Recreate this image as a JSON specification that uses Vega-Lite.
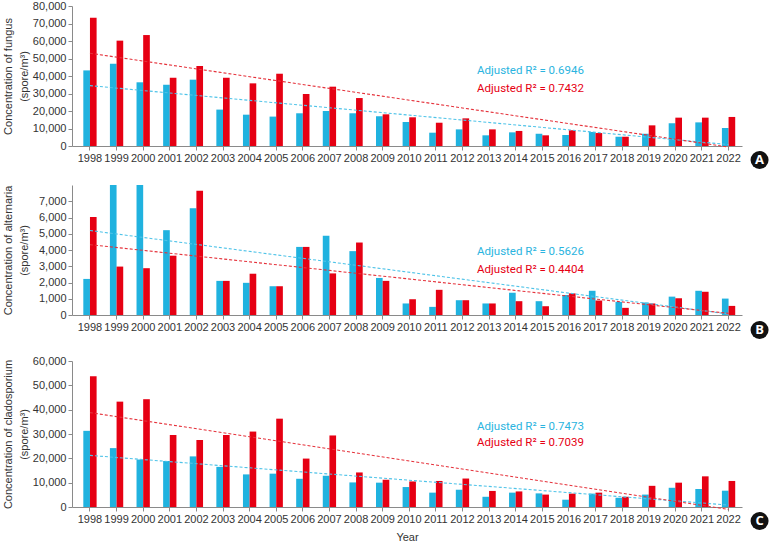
{
  "$schema": "https://vega.github.io/schema/vega-lite/v6.json",
  "padding": {"left": 2, "top": 0, "right": 0, "bottom": 0},
  "spacing": 16,
  "datasets": {
    "bars": [
      {"panel":"A","year":1998,"series":"Series 1","value":43200},{"panel":"A","year":1998,"series":"Series 2","value":73300},
      {"panel":"A","year":1999,"series":"Series 1","value":47000},{"panel":"A","year":1999,"series":"Series 2","value":60200},
      {"panel":"A","year":2000,"series":"Series 1","value":36400},{"panel":"A","year":2000,"series":"Series 2","value":63400},
      {"panel":"A","year":2001,"series":"Series 1","value":35000},{"panel":"A","year":2001,"series":"Series 2","value":39000},
      {"panel":"A","year":2002,"series":"Series 1","value":37900},{"panel":"A","year":2002,"series":"Series 2","value":45700},
      {"panel":"A","year":2003,"series":"Series 1","value":20800},{"panel":"A","year":2003,"series":"Series 2","value":39000},
      {"panel":"A","year":2004,"series":"Series 1","value":17900},{"panel":"A","year":2004,"series":"Series 2","value":35800},
      {"panel":"A","year":2005,"series":"Series 1","value":16800},{"panel":"A","year":2005,"series":"Series 2","value":41300},
      {"panel":"A","year":2006,"series":"Series 1","value":18700},{"panel":"A","year":2006,"series":"Series 2","value":29700},
      {"panel":"A","year":2007,"series":"Series 1","value":20000},{"panel":"A","year":2007,"series":"Series 2","value":33900},
      {"panel":"A","year":2008,"series":"Series 1","value":18700},{"panel":"A","year":2008,"series":"Series 2","value":27400},
      {"panel":"A","year":2009,"series":"Series 1","value":17000},{"panel":"A","year":2009,"series":"Series 2","value":18100},
      {"panel":"A","year":2010,"series":"Series 1","value":13700},{"panel":"A","year":2010,"series":"Series 2","value":16400},
      {"panel":"A","year":2011,"series":"Series 1","value":7600},{"panel":"A","year":2011,"series":"Series 2","value":13300},
      {"panel":"A","year":2012,"series":"Series 1","value":9500},{"panel":"A","year":2012,"series":"Series 2","value":15800},
      {"panel":"A","year":2013,"series":"Series 1","value":6100},{"panel":"A","year":2013,"series":"Series 2","value":9500},
      {"panel":"A","year":2014,"series":"Series 1","value":7800},{"panel":"A","year":2014,"series":"Series 2","value":8600},
      {"panel":"A","year":2015,"series":"Series 1","value":7000},{"panel":"A","year":2015,"series":"Series 2","value":6100},
      {"panel":"A","year":2016,"series":"Series 1","value":6300},{"panel":"A","year":2016,"series":"Series 2","value":9000},
      {"panel":"A","year":2017,"series":"Series 1","value":8000},{"panel":"A","year":2017,"series":"Series 2","value":7400},
      {"panel":"A","year":2018,"series":"Series 1","value":5300},{"panel":"A","year":2018,"series":"Series 2","value":5300},
      {"panel":"A","year":2019,"series":"Series 1","value":7000},{"panel":"A","year":2019,"series":"Series 2","value":11800},
      {"panel":"A","year":2020,"series":"Series 1","value":13000},{"panel":"A","year":2020,"series":"Series 2","value":16200},
      {"panel":"A","year":2021,"series":"Series 1","value":13500},{"panel":"A","year":2021,"series":"Series 2","value":16200},
      {"panel":"A","year":2022,"series":"Series 1","value":10300},{"panel":"A","year":2022,"series":"Series 2","value":16600},

      {"panel":"B","year":1998,"series":"Series 1","value":2220},{"panel":"B","year":1998,"series":"Series 2","value":6030},
      {"panel":"B","year":1999,"series":"Series 1","value":8500},{"panel":"B","year":1999,"series":"Series 2","value":2980},
      {"panel":"B","year":2000,"series":"Series 1","value":8500},{"panel":"B","year":2000,"series":"Series 2","value":2880},
      {"panel":"B","year":2001,"series":"Series 1","value":5220},{"panel":"B","year":2001,"series":"Series 2","value":3650},
      {"panel":"B","year":2002,"series":"Series 1","value":6570},{"panel":"B","year":2002,"series":"Series 2","value":7640},
      {"panel":"B","year":2003,"series":"Series 1","value":2100},{"panel":"B","year":2003,"series":"Series 2","value":2100},
      {"panel":"B","year":2004,"series":"Series 1","value":1980},{"panel":"B","year":2004,"series":"Series 2","value":2540},
      {"panel":"B","year":2005,"series":"Series 1","value":1770},{"panel":"B","year":2005,"series":"Series 2","value":1770},
      {"panel":"B","year":2006,"series":"Series 1","value":4190},{"panel":"B","year":2006,"series":"Series 2","value":4190},
      {"panel":"B","year":2007,"series":"Series 1","value":4880},{"panel":"B","year":2007,"series":"Series 2","value":2560},
      {"panel":"B","year":2008,"series":"Series 1","value":3930},{"panel":"B","year":2008,"series":"Series 2","value":4460},
      {"panel":"B","year":2009,"series":"Series 1","value":2280},{"panel":"B","year":2009,"series":"Series 2","value":2100},
      {"panel":"B","year":2010,"series":"Series 1","value":710},{"panel":"B","year":2010,"series":"Series 2","value":970},
      {"panel":"B","year":2011,"series":"Series 1","value":500},{"panel":"B","year":2011,"series":"Series 2","value":1550},
      {"panel":"B","year":2012,"series":"Series 1","value":910},{"panel":"B","year":2012,"series":"Series 2","value":910},
      {"panel":"B","year":2013,"series":"Series 1","value":710},{"panel":"B","year":2013,"series":"Series 2","value":710},
      {"panel":"B","year":2014,"series":"Series 1","value":1370},{"panel":"B","year":2014,"series":"Series 2","value":850},
      {"panel":"B","year":2015,"series":"Series 1","value":850},{"panel":"B","year":2015,"series":"Series 2","value":540},
      {"panel":"B","year":2016,"series":"Series 1","value":1230},{"panel":"B","year":2016,"series":"Series 2","value":1330},
      {"panel":"B","year":2017,"series":"Series 1","value":1490},{"panel":"B","year":2017,"series":"Series 2","value":890},
      {"panel":"B","year":2018,"series":"Series 1","value":810},{"panel":"B","year":2018,"series":"Series 2","value":440},
      {"panel":"B","year":2019,"series":"Series 1","value":770},{"panel":"B","year":2019,"series":"Series 2","value":710},
      {"panel":"B","year":2020,"series":"Series 1","value":1130},{"panel":"B","year":2020,"series":"Series 2","value":1030},
      {"panel":"B","year":2021,"series":"Series 1","value":1490},{"panel":"B","year":2021,"series":"Series 2","value":1430},
      {"panel":"B","year":2022,"series":"Series 1","value":1010},{"panel":"B","year":2022,"series":"Series 2","value":560},

      {"panel":"C","year":1998,"series":"Series 1","value":31300},{"panel":"C","year":1998,"series":"Series 2","value":53700},
      {"panel":"C","year":1999,"series":"Series 1","value":24200},{"panel":"C","year":1999,"series":"Series 2","value":43300},
      {"panel":"C","year":2000,"series":"Series 1","value":19500},{"panel":"C","year":2000,"series":"Series 2","value":44300},
      {"panel":"C","year":2001,"series":"Series 1","value":18900},{"panel":"C","year":2001,"series":"Series 2","value":29600},
      {"panel":"C","year":2002,"series":"Series 1","value":20800},{"panel":"C","year":2002,"series":"Series 2","value":27500},
      {"panel":"C","year":2003,"series":"Series 1","value":16500},{"panel":"C","year":2003,"series":"Series 2","value":29600},
      {"panel":"C","year":2004,"series":"Series 1","value":13400},{"panel":"C","year":2004,"series":"Series 2","value":31000},
      {"panel":"C","year":2005,"series":"Series 1","value":13700},{"panel":"C","year":2005,"series":"Series 2","value":36300},
      {"panel":"C","year":2006,"series":"Series 1","value":11600},{"panel":"C","year":2006,"series":"Series 2","value":19900},
      {"panel":"C","year":2007,"series":"Series 1","value":12800},{"panel":"C","year":2007,"series":"Series 2","value":29400},
      {"panel":"C","year":2008,"series":"Series 1","value":10100},{"panel":"C","year":2008,"series":"Series 2","value":14200},
      {"panel":"C","year":2009,"series":"Series 1","value":10000},{"panel":"C","year":2009,"series":"Series 2","value":11200},
      {"panel":"C","year":2010,"series":"Series 1","value":8200},{"panel":"C","year":2010,"series":"Series 2","value":10500},
      {"panel":"C","year":2011,"series":"Series 1","value":5900},{"panel":"C","year":2011,"series":"Series 2","value":10700},
      {"panel":"C","year":2012,"series":"Series 1","value":7100},{"panel":"C","year":2012,"series":"Series 2","value":11700},
      {"panel":"C","year":2013,"series":"Series 1","value":4200},{"panel":"C","year":2013,"series":"Series 2","value":6600},
      {"panel":"C","year":2014,"series":"Series 1","value":5900},{"panel":"C","year":2014,"series":"Series 2","value":6400},
      {"panel":"C","year":2015,"series":"Series 1","value":5600},{"panel":"C","year":2015,"series":"Series 2","value":5100},
      {"panel":"C","year":2016,"series":"Series 1","value":3000},{"panel":"C","year":2016,"series":"Series 2","value":5500},
      {"panel":"C","year":2017,"series":"Series 1","value":5500},{"panel":"C","year":2017,"series":"Series 2","value":5900},
      {"panel":"C","year":2018,"series":"Series 1","value":3800},{"panel":"C","year":2018,"series":"Series 2","value":4200},
      {"panel":"C","year":2019,"series":"Series 1","value":5100},{"panel":"C","year":2019,"series":"Series 2","value":8700},
      {"panel":"C","year":2020,"series":"Series 1","value":7900},{"panel":"C","year":2020,"series":"Series 2","value":10000},
      {"panel":"C","year":2021,"series":"Series 1","value":7400},{"panel":"C","year":2021,"series":"Series 2","value":12600},
      {"panel":"C","year":2022,"series":"Series 1","value":6700},{"panel":"C","year":2022,"series":"Series 2","value":10700}
    ],
    "trends": [
      {"panel":"A","year":1998,"series":"Series 1","value":34500},{"panel":"A","year":2022,"series":"Series 1","value":800},
      {"panel":"A","year":1998,"series":"Series 2","value":53000},{"panel":"A","year":2022,"series":"Series 2","value":-600},
      {"panel":"B","year":1998,"series":"Series 1","value":5200},{"panel":"B","year":2022,"series":"Series 1","value":60},
      {"panel":"B","year":1998,"series":"Series 2","value":4330},{"panel":"B","year":2022,"series":"Series 2","value":100},
      {"panel":"C","year":1998,"series":"Series 1","value":21200},{"panel":"C","year":2022,"series":"Series 1","value":800},
      {"panel":"C","year":1998,"series":"Series 2","value":38800},{"panel":"C","year":2022,"series":"Series 2","value":-1000}
    ]
  },
  "vconcat": [
    {
      "width": 670, "height": 140,
      "layer": [
        {
          "data": {"name": "bars"},
          "transform": [{"filter": "datum.panel === 'A'"}],
          "mark": {"type": "bar", "clip": true},
          "encoding": {
            "x": {"field": "year", "type": "ordinal", "title": null,
                  "scale": {"paddingInner": 0.5, "paddingOuter": 0.34, "align": 0.625}},
            "xOffset": {"field": "series", "type": "nominal"},
            "y": {"field": "value", "type": "quantitative",
                  "scale": {"domain": [0, 80000]},
                  "axis": {"values": [0,10000,20000,30000,40000,50000,60000,70000,80000], "format": ",d"},
                  "title": ["Concentration of fungus", "(spore/m³)"]},
            "color": {"field": "series", "type": "nominal",
                      "scale": {"domain": ["Series 1", "Series 2"], "range": ["#20B2DF", "#E60013"]}, "legend": null}
          }
        },
        {
          "data": {"name": "trends"},
          "transform": [{"filter": "datum.panel === 'A'"}],
          "mark": {"type": "line", "strokeDash": [3, 2], "strokeWidth": 1.1},
          "encoding": {
            "x": {"field": "year", "type": "ordinal", "title": null},
            "y": {"field": "value", "type": "quantitative",
                  "axis": {"values": [0,10000,20000,30000,40000,50000,60000,70000,80000], "format": ",d"},
                  "title": ["Concentration of fungus", "(spore/m³)"]},
            "stroke": {"field": "series", "type": "nominal",
                       "scale": {"domain": ["Series 1", "Series 2"], "range": ["#4EC3E8", "#E5323B"]}, "legend": null}
          }
        },
        {
          "data": {"values": [{}]},
          "mark": {"type": "text", "text": "Adjusted R² = 0.6946", "color": "#2AB4E0", "font": "Roboto", "fontSize": 11.5, "align": "left", "baseline": "middle", "dx": -12},
          "encoding": {"x": {"datum": 2013, "type": "ordinal", "title": null},
                       "y": {"datum": 42700, "type": "quantitative", "axis": {"values": [0,10000,20000,30000,40000,50000,60000,70000,80000], "format": ",d"}, "title": ["Concentration of fungus", "(spore/m³)"]}}
        },
        {
          "data": {"values": [{}]},
          "mark": {"type": "text", "text": "Adjusted R² = 0.7432", "color": "#E60013", "font": "Roboto", "fontSize": 11.5, "align": "left", "baseline": "middle", "dx": -12},
          "encoding": {"x": {"datum": 2013, "type": "ordinal", "title": null},
                       "y": {"datum": 32800, "type": "quantitative", "axis": {"values": [0,10000,20000,30000,40000,50000,60000,70000,80000], "format": ",d"}, "title": ["Concentration of fungus", "(spore/m³)"]}}
        },
        {
          "data": {"values": [{}]},
          "mark": {"type": "circle", "size": 324, "color": "#111111", "opacity": 1, "xOffset": 31, "yOffset": 14},
          "encoding": {"x": {"datum": 2022, "type": "ordinal", "title": null},
                       "y": {"datum": 0, "type": "quantitative", "axis": {"values": [0,10000,20000,30000,40000,50000,60000,70000,80000], "format": ",d"}, "title": ["Concentration of fungus", "(spore/m³)"]}}
        },
        {
          "data": {"values": [{}]},
          "mark": {"type": "text", "text": "A", "color": "#ffffff", "font": "Open Sans", "fontWeight": "bold", "fontSize": 13, "align": "center", "baseline": "middle", "dx": 31, "dy": 14},
          "encoding": {"x": {"datum": 2022, "type": "ordinal", "title": null},
                       "y": {"datum": 0, "type": "quantitative", "axis": {"values": [0,10000,20000,30000,40000,50000,60000,70000,80000], "format": ",d"}, "title": ["Concentration of fungus", "(spore/m³)"]}}
        }
      ]
    },
    {
      "width": 670, "height": 130,
      "layer": [
        {
          "data": {"name": "bars"},
          "transform": [{"filter": "datum.panel === 'B'"}],
          "mark": {"type": "bar", "clip": true},
          "encoding": {
            "x": {"field": "year", "type": "ordinal", "title": null,
                  "scale": {"paddingInner": 0.5, "paddingOuter": 0.34, "align": 0.625}},
            "xOffset": {"field": "series", "type": "nominal"},
            "y": {"field": "value", "type": "quantitative",
                  "scale": {"domain": [0, 7750]},
                  "axis": {"values": [0,1000,2000,3000,4000,5000,6000,7000], "format": ",d"},
                  "title": ["Concentration of alternaria", "(spore/m³)"]},
            "color": {"field": "series", "type": "nominal",
                      "scale": {"domain": ["Series 1", "Series 2"], "range": ["#20B2DF", "#E60013"]}, "legend": null}
          }
        },
        {
          "data": {"name": "trends"},
          "transform": [{"filter": "datum.panel === 'B'"}],
          "mark": {"type": "line", "strokeDash": [3, 2], "strokeWidth": 1.1},
          "encoding": {
            "x": {"field": "year", "type": "ordinal", "title": null},
            "y": {"field": "value", "type": "quantitative",
                  "axis": {"values": [0,1000,2000,3000,4000,5000,6000,7000], "format": ",d"},
                  "title": ["Concentration of alternaria", "(spore/m³)"]},
            "stroke": {"field": "series", "type": "nominal",
                       "scale": {"domain": ["Series 1", "Series 2"], "range": ["#4EC3E8", "#E5323B"]}, "legend": null}
          }
        },
        {
          "data": {"values": [{}]},
          "mark": {"type": "text", "text": "Adjusted R² = 0.5626", "color": "#2AB4E0", "font": "Roboto", "fontSize": 11.5, "align": "left", "baseline": "middle", "dx": -12},
          "encoding": {"x": {"datum": 2013, "type": "ordinal", "title": null},
                       "y": {"datum": 3850, "type": "quantitative", "axis": {"values": [0,1000,2000,3000,4000,5000,6000,7000], "format": ",d"}, "title": ["Concentration of alternaria", "(spore/m³)"]}}
        },
        {
          "data": {"values": [{}]},
          "mark": {"type": "text", "text": "Adjusted R² = 0.4404", "color": "#E60013", "font": "Roboto", "fontSize": 11.5, "align": "left", "baseline": "middle", "dx": -12},
          "encoding": {"x": {"datum": 2013, "type": "ordinal", "title": null},
                       "y": {"datum": 2800, "type": "quantitative", "axis": {"values": [0,1000,2000,3000,4000,5000,6000,7000], "format": ",d"}, "title": ["Concentration of alternaria", "(spore/m³)"]}}
        },
        {
          "data": {"values": [{}]},
          "mark": {"type": "circle", "size": 324, "color": "#111111", "opacity": 1, "xOffset": 31, "yOffset": 15},
          "encoding": {"x": {"datum": 2022, "type": "ordinal", "title": null},
                       "y": {"datum": 0, "type": "quantitative", "axis": {"values": [0,1000,2000,3000,4000,5000,6000,7000], "format": ",d"}, "title": ["Concentration of alternaria", "(spore/m³)"]}}
        },
        {
          "data": {"values": [{}]},
          "mark": {"type": "text", "text": "B", "color": "#ffffff", "font": "Open Sans", "fontWeight": "bold", "fontSize": 13, "align": "center", "baseline": "middle", "dx": 31, "dy": 15},
          "encoding": {"x": {"datum": 2022, "type": "ordinal", "title": null},
                       "y": {"datum": 0, "type": "quantitative", "axis": {"values": [0,1000,2000,3000,4000,5000,6000,7000], "format": ",d"}, "title": ["Concentration of alternaria", "(spore/m³)"]}}
        }
      ]
    },
    {
      "width": 670, "height": 146,
      "layer": [
        {
          "data": {"name": "bars"},
          "transform": [{"filter": "datum.panel === 'C'"}],
          "mark": {"type": "bar", "clip": true},
          "encoding": {
            "x": {"field": "year", "type": "ordinal", "title": "Year",
                  "scale": {"paddingInner": 0.5, "paddingOuter": 0.34, "align": 0.625}},
            "xOffset": {"field": "series", "type": "nominal"},
            "y": {"field": "value", "type": "quantitative",
                  "scale": {"domain": [0, 60000]},
                  "axis": {"values": [0,10000,20000,30000,40000,50000,60000], "format": ",d"},
                  "title": ["Concentration of cladosporium", "(spore/m³)"]},
            "color": {"field": "series", "type": "nominal",
                      "scale": {"domain": ["Series 1", "Series 2"], "range": ["#20B2DF", "#E60013"]}, "legend": null}
          }
        },
        {
          "data": {"name": "trends"},
          "transform": [{"filter": "datum.panel === 'C'"}],
          "mark": {"type": "line", "strokeDash": [3, 2], "strokeWidth": 1.1},
          "encoding": {
            "x": {"field": "year", "type": "ordinal", "title": "Year"},
            "y": {"field": "value", "type": "quantitative",
                  "axis": {"values": [0,10000,20000,30000,40000,50000,60000], "format": ",d"},
                  "title": ["Concentration of cladosporium", "(spore/m³)"]},
            "stroke": {"field": "series", "type": "nominal",
                       "scale": {"domain": ["Series 1", "Series 2"], "range": ["#4EC3E8", "#E5323B"]}, "legend": null}
          }
        },
        {
          "data": {"values": [{}]},
          "mark": {"type": "text", "text": "Adjusted R² = 0.7473", "color": "#2AB4E0", "font": "Roboto", "fontSize": 11.5, "align": "left", "baseline": "middle", "dx": -12},
          "encoding": {"x": {"datum": 2013, "type": "ordinal", "title": "Year"},
                       "y": {"datum": 33060, "type": "quantitative", "axis": {"values": [0,10000,20000,30000,40000,50000,60000], "format": ",d"}, "title": ["Concentration of cladosporium", "(spore/m³)"]}}
        },
        {
          "data": {"values": [{}]},
          "mark": {"type": "text", "text": "Adjusted R² = 0.7039", "color": "#E60013", "font": "Roboto", "fontSize": 11.5, "align": "left", "baseline": "middle", "dx": -12},
          "encoding": {"x": {"datum": 2013, "type": "ordinal", "title": "Year"},
                       "y": {"datum": 26100, "type": "quantitative", "axis": {"values": [0,10000,20000,30000,40000,50000,60000], "format": ",d"}, "title": ["Concentration of cladosporium", "(spore/m³)"]}}
        },
        {
          "data": {"values": [{}]},
          "mark": {"type": "circle", "size": 324, "color": "#111111", "opacity": 1, "xOffset": 31, "yOffset": 14},
          "encoding": {"x": {"datum": 2022, "type": "ordinal", "title": "Year"},
                       "y": {"datum": 0, "type": "quantitative", "axis": {"values": [0,10000,20000,30000,40000,50000,60000], "format": ",d"}, "title": ["Concentration of cladosporium", "(spore/m³)"]}}
        },
        {
          "data": {"values": [{}]},
          "mark": {"type": "text", "text": "C", "color": "#ffffff", "font": "Open Sans", "fontWeight": "bold", "fontSize": 13, "align": "center", "baseline": "middle", "dx": 31, "dy": 14},
          "encoding": {"x": {"datum": 2022, "type": "ordinal", "title": "Year"},
                       "y": {"datum": 0, "type": "quantitative", "axis": {"values": [0,10000,20000,30000,40000,50000,60000], "format": ",d"}, "title": ["Concentration of cladosporium", "(spore/m³)"]}}
        }
      ]
    }
  ],
  "config": {
    "view": {"stroke": null},
    "axis": {
      "grid": false,
      "domainColor": "#8a8a8a",
      "tickColor": "#8a8a8a",
      "tickSize": 4,
      "labelFont": "Liberation Sans",
      "labelFontSize": 11,
      "labelColor": "#333333",
      "titleFont": "Liberation Sans",
      "titleFontSize": 11,
      "titleFontWeight": "normal",
      "titleColor": "#333333"
    },
    "axisY": {"minExtent": 40, "titlePadding": 3, "labelPadding": 2, "titleLineHeight": 16, "labelOverlap": false, "labelFlush": false},
    "axisX": {"labelAngle": 0, "labelPadding": 2, "titlePadding": 7, "labelOverlap": false}
  }
}
